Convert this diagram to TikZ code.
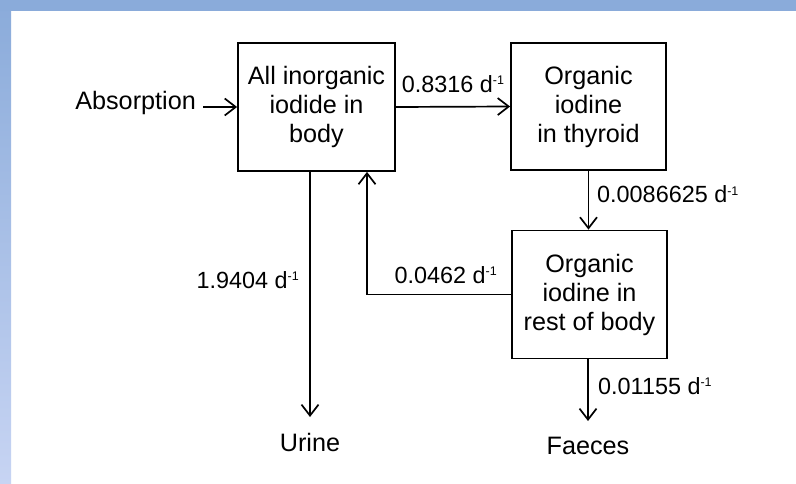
\documentclass[tikz,border=0pt]{standalone}
\usepackage{fontspec}
\setmainfont{Liberation Sans}
\usepackage{tikz}
\usetikzlibrary{arrows.meta}

\definecolor{framehi}{RGB}{138,171,218}
\definecolor{framelo}{RGB}{199,212,243}
\newcommand{\perday}{d\raisebox{7.8pt}{\fontsize{12.5}{12.5}\selectfont -1}}

\begin{document}
\begin{tikzpicture}[x=1pt, y=-1pt,
    font=\fontsize{25.2}{29}\selectfont,
    compbox/.style={draw, line width=1.8pt, align=center, inner sep=0pt},
    flow/.style={line width=1.7pt, -{Straight Barb[length=11pt, width=17pt]}},
    rate/.style={inner sep=3pt, font=\fontsize{23.4}{28}\selectfont},
    sink/.style={anchor=north, inner xsep=3pt, inner ysep=16pt}]
  % Frame of the slide
  \useasboundingbox (0,0) rectangle (796,484);
  \fill[white] (0,0) rectangle (796,484);
  \shade[top color=framehi, bottom color=framelo] (0,0) rectangle (11,484);
  \fill[framehi] (0,0) rectangle (796,11);

  % Compartments
  \node[compbox, minimum width=157pt, minimum height=128pt] (inorg) at (316.5,107)
    {All inorganic\\iodide in\\body};
  \node[compbox, minimum width=155pt, minimum height=127pt] (thyroid) at (588.5,106.5)
    {Organic\\iodine\\in thyroid};
  \node[compbox, minimum width=155pt, minimum height=128pt] (rest) at (589.5,294.5)
    {Organic\\iodine in\\rest of body};

  % Sources and sinks
  \node[anchor=base east, inner xsep=7pt] (absorb) at (203,110) {Absorption};
  \node[sink] (urine) at (310,417) {Urine};
  \node[sink] (faeces) at (588,421) {Faeces};

  % Flows
  \draw[flow] (absorb.east |- inorg.west) -- (inorg.west);
  \draw[flow] (inorg.east) -- (thyroid.west);
  \draw[flow] (thyroid.south) -- (thyroid.south |- rest.north);
  \draw[flow] (rest.west) -| ([xshift=50.5pt]inorg.south);
  \draw[flow] (inorg.south -| urine.north) -- (urine.north);
  \draw[flow] (rest.south -| faeces.north) -- (faeces.north);

  % Rate constants
  \node[rate] (kIT) at (453,84) {0.8316 \perday};
  \node[rate, anchor=west] (kTR) at (594,194.5) {0.0086625 \perday};
  \node[rate, anchor=east] (kRI) at (500,275) {0.0462 \perday};
  \node[rate, anchor=east] (kIU) at (302,280) {1.9404 \perday};
  \node[rate, anchor=west] (kRF) at (595,386) {0.01155 \perday};
\end{tikzpicture}
\end{document}
